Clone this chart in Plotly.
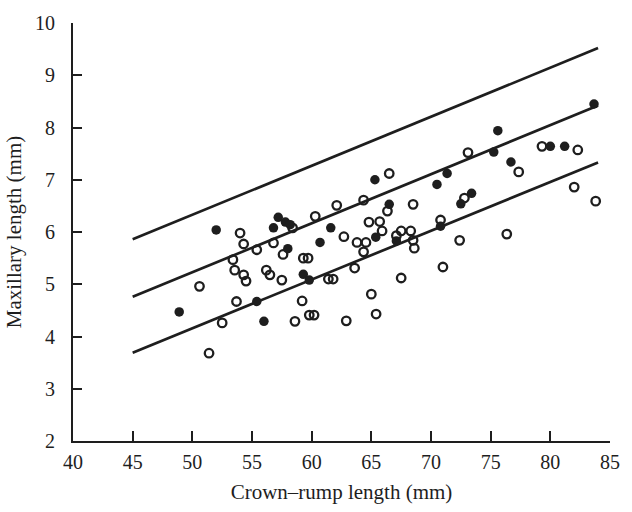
import plotly.graph_objects as go

# Open circles
open_x = [54.0, 58.4, 54.3, 55.4, 56.8, 57.6, 59.3, 59.7, 53.4, 53.55, 54.3, 54.5, 56.2, 56.5, 57.5,
          50.6, 53.7, 59.2, 52.5, 58.6, 59.8, 60.2, 51.4, 60.3,
          66.5, 64.35, 62.1, 66.35, 68.5, 64.8, 65.7, 65.9, 62.7, 63.8, 64.55, 67.5, 68.3, 67.1, 68.5,
          68.6, 64.35, 61.4, 61.8, 63.6, 70.8, 71.0, 67.5, 65.0, 65.4, 62.9,
          73.1, 79.3, 82.3, 77.35, 72.8, 82.0, 83.8, 76.35, 72.4]
open_y = [5.98, 6.08, 5.77, 5.66, 5.79, 5.57, 5.5, 5.5, 5.47, 5.27, 5.18, 5.06, 5.27, 5.18, 5.08,
          4.96, 4.67, 4.68, 4.26, 4.29, 4.41, 4.41, 3.68, 6.3,
          7.12, 6.61, 6.51, 6.4, 6.53, 6.19, 6.2, 6.02, 5.91, 5.8, 5.8, 6.02, 6.02, 5.93, 5.84,
          5.69, 5.62, 5.1, 5.1, 5.31, 6.23, 5.33, 5.12, 4.81, 4.43, 4.3,
          7.52, 7.64, 7.57, 7.15, 6.65, 6.86, 6.59, 5.96, 5.84]

# Filled circles
filled_x = [52.0, 57.2, 57.8, 58.2, 56.8, 58.0, 59.3, 59.8, 55.4, 48.9, 56.0,
            65.3, 71.35, 70.5, 66.5, 61.6, 65.37, 60.7, 67.1, 70.8,
            83.66, 75.6, 75.26, 80.0, 81.2, 76.7, 73.4, 72.5]
filled_y = [6.04, 6.28, 6.19, 6.14, 6.08, 5.68, 5.19, 5.08, 4.67, 4.47, 4.29,
            7.0, 7.12, 6.91, 6.53, 6.08, 5.9, 5.8, 5.83, 6.11,
            8.45, 7.94, 7.53, 7.64, 7.64, 7.34, 6.74, 6.54]

# Regression line and limits (endpoints)
line_x = [45, 84]
upper_y = [5.86, 9.52]
mid_y = [4.76, 8.42]
lower_y = [3.69, 7.33]

x_ticks = [40, 45, 50, 55, 60, 65, 70, 75, 80, 85]
y_ticks = [2, 3, 4, 5, 6, 7, 8, 9, 10]

ink = "#1e1e1e"
fig = go.Figure()
for ys in (upper_y, mid_y, lower_y):
    fig.add_trace(go.Scatter(x=line_x, y=ys, mode="lines",
                             line=dict(color=ink, width=2.7), showlegend=False, hoverinfo="skip"))
fig.add_trace(go.Scatter(x=open_x, y=open_y, mode="markers", showlegend=False,
                         marker=dict(symbol="circle-open", size=8.5, color=ink,
                                     line=dict(width=2.3, color=ink))))
fig.add_trace(go.Scatter(x=filled_x, y=filled_y, mode="markers", showlegend=False,
                         marker=dict(symbol="circle", size=9.5, color=ink)))

fam = "Liberation Serif, DejaVu Serif, serif"
tick_font = dict(family=fam, size=20, color=ink)
title_font = dict(family=fam, size=21, color=ink)
fig.update_layout(
    width=632, height=512,
    margin=dict(l=73, r=13, t=12, b=65),
    paper_bgcolor="white", plot_bgcolor="white",
    font=tick_font,
    xaxis=dict(range=[40, 85], tickvals=x_ticks, ticktext=[str(v) for v in x_ticks],
               showgrid=False, zeroline=False, showline=True, linecolor=ink, linewidth=2,
               ticks="inside", ticklen=10, tickwidth=2, tickcolor=ink,
               ticklabelstandoff=2,
               title=dict(text="Crown–rump length (mm)", standoff=12, font=title_font),
               tickfont=tick_font),
    yaxis=dict(range=[2, 10], tickvals=y_ticks, ticktext=[str(v) for v in y_ticks],
               showgrid=False, zeroline=False, showline=True, linecolor=ink, linewidth=2,
               ticks="inside", ticklen=9, tickwidth=2, tickcolor=ink,
               ticklabelstandoff=12,
               title=dict(text="Maxillary length (mm)", standoff=8, font=title_font),
               tickfont=tick_font),
)
fig.write_html("out.html", config={"displayModeBar": False},
               post_script="document.body.style.margin='0';document.body.style.overflow='hidden';")
